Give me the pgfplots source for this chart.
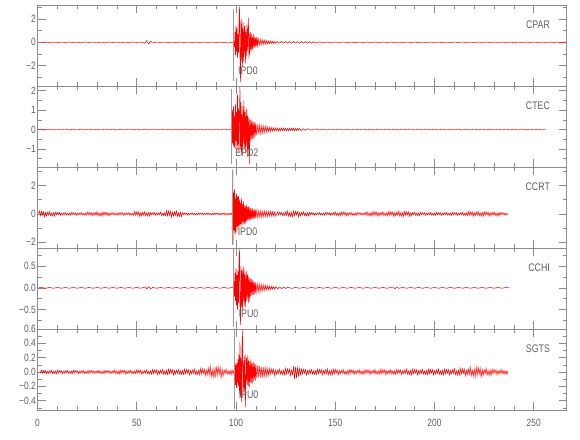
\documentclass[border=0pt]{standalone}
\usepackage{pgfplots}
\pgfplotsset{compat=1.18}
\usepackage{fontspec}
\setmainfont{Liberation Sans}[FakeStretch=0.8]
\definecolor{axgray}{HTML}{8C8C8C}
\definecolor{txtgray}{HTML}{606060}
\definecolor{pickgray}{HTML}{9A9A9A}
\pgfplotsset{
 panel/.style={
  scale only axis, width=529bp, height=81bp,
  xmin=0, xmax=266.5,
  axis line style={draw=axgray, line width=0.7bp},
  tick style={draw=axgray, line width=0.6bp},
  major tick length=8bp, minor tick length=4bp,
  tick align=inside,
  xtick={0,50,100,150,200,250}, minor x tick num=4,
  xticklabels={},
  tick label style={font=\fontsize{10.5bp}{12bp}\selectfont, text=txtgray},
  yticklabel style={inner sep=0pt, xshift=-1.5bp},
  xticklabel style={inner sep=0pt, yshift=-9bp},
  anchor=north west,
 },
 trace/.style={draw=red, line width=0.5bp},
 pick/.style={draw=pickgray, line width=0.55bp},
}
\newcommand{\stlabel}[1]{\node[anchor=east, inner sep=0pt, text=txtgray, font=\fontsize{11bp}{12bp}\selectfont] at (rel axis cs:0.969,0.76) {#1};}
\newcommand{\phlabel}[3]{\node[anchor=west, inner sep=0pt, text=txtgray, font=\fontsize{11bp}{12bp}\selectfont] at (axis cs:#1,#2) {#3};}
\begin{document}
\begin{tikzpicture}
\path (0bp,0bp) rectangle (580bp,-440bp);
% ---------------- CPAR
\begin{axis}[panel, at={(37.5bp,-5bp)}, ymin=-3.74, ymax=3.2,
  ytick={-2,0,2}, minor ytick={-3,-1,1,3}, yticklabels={−2,0,2}]
\addplot[trace] coordinates {
(1.8,0)(4,0.03)(6,-0.03)(8,0.02)(10,-0.03)(12,0.03)(14,-0.02)(16,0.03)(18,-0.03)(20,0.02)(22,-0.03)(24,0.03)(26,-0.02)(28,0.03)(30,-0.03)(32,0.02)(34,-0.03)(36,0.03)(38,-0.02)(40,0.03)(42,-0.03)(44,0.02)(46,-0.03)(48,0.03)(50,-0.02)(52,0.03)(54,-0.08)(55,0.15)(56,-0.14)(57,0.1)(58,-0.05)(60,0.03)(62,-0.02)(64,0.03)(66,-0.03)(68,0.02)(70,-0.03)(72,0.03)(74,-0.02)(76,0.03)(78,-0.03)(80,0.02)(82,-0.03)(84,0.03)(86,-0.02)(88,0.03)(90,-0.03)(92,0.02)(94,-0.03)(96,0.03)(98,-0.03)
(99,0.02)(99.25,-0.4)(99.5,0.9)(99.75,-1.1)(100,1.4)(100.25,-0.8)(100.5,1.2)(100.75,-1.3)(101,0.7)(101.25,-0.9)(101.5,1.6)(101.75,3.05)(102,-1.2)(102.25,-3.4)(102.5,1.8)(102.75,-1.5)(103,2)(103.25,-2.1)(103.5,1.2)(103.75,-1.6)(104,1.7)(104.25,-1)(104.5,1.4)(104.75,-1.8)(105,0.9)(105.25,-1.2)(105.5,1.5)(105.75,-0.7)(106,1.1)(106.25,2.1)(106.5,-1.4)(106.75,0.8)(107,-1.1)(107.25,0.9)(107.5,-0.6)(107.75,0.7)(108,-0.8)(108.25,0.5)(108.5,-0.6)(108.75,0.7)(109,-0.4)(109.25,0.5)(109.5,-0.5)(109.75,0.4)(110,-0.35)(110.25,0.45)(110.5,-0.3)(110.75,0.35)(111,-0.3)(111.5,0.3)(112,-0.25)(112.5,0.28)(113,-0.2)(113.5,0.22)(114,-0.18)(114.5,0.2)(115,-0.15)(115.5,0.16)(116,-0.14)(116.5,0.12)(117,-0.12)(117.5,0.11)(118,-0.1)(118.5,0.1)(119,-0.09)(119.5,0.08)(120,-0.08)
(121,0.08)(122,-0.07)(123,0.08)(124,-0.07)(125,0.07)(126,-0.08)(127,0.07)(128,-0.07)(129,0.08)(130,-0.07)(131,0.06)(132,-0.07)(133,0.07)(134,-0.06)(135,0.07)(136,-0.06)(137,0.06)(138,-0.07)(139,0.06)(140,-0.06)(142,0.04)(144,-0.04)(146,0.03)(148,-0.04)(150,0.03)(152,-0.03)(154,0.03)(156,-0.03)(158,0.02)(160,-0.03)(162,0.03)(164,-0.02)(166,0.03)(168,-0.03)(170,0.02)(172,-0.03)(174,0.03)(176,-0.02)(178,0.03)(180,-0.03)(182,0.02)(184,-0.03)(186,0.03)(188,-0.02)(190,0.03)(192,-0.03)(194,0.02)(196,-0.03)(198,0.03)(200,-0.02)(202,0.03)(204,-0.03)(206,0.02)(208,-0.03)(210,0.03)(212,-0.02)(214,0.03)(216,-0.03)(218,0.02)(220,-0.03)(222,0.03)(224,-0.02)(226,0.03)(228,-0.03)(230,0.02)(232,-0.03)(234,0.03)(236,-0.02)(238,0.03)(240,-0.03)(242,0.02)(244,-0.03)(246,0.03)(248,-0.02)(250,0.03)(252,-0.03)(254,0.02)(256,-0.03)(258,0.03)(260,-0.02)(262,0.03)(264,-0.03)(266,0.02)(268,0)
};
\addplot[pick] coordinates {(98.8,-3.34)(98.8,2.87)};
\stlabel{CPAR}
\phlabel{101}{-2.41}{IPD0}
\end{axis}
% ---------------- CTEC
\begin{axis}[panel, at={(37.5bp,-86bp)}, ymin=-1.93, ymax=2.24,
  ytick={-1,0,1,2}, minor ytick={-1.5,-0.5,0.5,1.5}, yticklabels={−1,0,1,2}]
\addplot[trace] coordinates {
(0,0)(2,0.025)(4,-0.025)(6,0.02)(8,-0.025)(10,0.025)(12,-0.02)(14,0.025)(16,-0.025)(18,0.02)(20,-0.025)(22,0.025)(24,-0.02)(26,0.025)(28,-0.025)(30,0.02)(32,-0.025)(34,0.025)(36,-0.02)(38,0.025)(40,-0.025)(42,0.02)(44,-0.025)(46,0.025)(48,-0.02)(50,0.025)(52,-0.025)(54,0.02)(56,-0.025)(58,0.025)(60,-0.02)(62,0.025)(64,-0.025)(66,0.02)(68,-0.025)(70,0.025)(72,-0.02)(74,0.025)(76,-0.025)(78,0.02)(80,-0.025)(82,0.025)(84,-0.02)(86,0.025)(88,-0.025)(90,0.02)(92,-0.025)(94,0.025)(96,-0.02)(97.5,0)
(97.75,0.6)(98,-0.7)(98.25,1)(98.5,-0.8)(98.75,1.2)(99,-0.9)(99.25,0.7)(99.5,-1)(99.75,1.3)(100,-0.6)(100.25,0.9)(100.5,-1.1)(100.75,1.8)(101,-0.8)(101.25,1.1)(101.5,-1.2)(101.75,0.9)(102,2.2)(102.25,-1)(102.5,1.4)(102.75,-1.3)(103,0.8)(103.25,-1.1)(103.5,1.2)(103.75,-0.7)(104,1.5)(104.25,-1)(104.5,0.9)(104.75,-1.2)(105,1)(105.25,-0.8)(105.5,1.1)(105.75,-1.4)(106,0.7)(106.25,-1)(106.5,0.6)(106.75,-1.78)(107,0.5)(107.25,-0.6)(107.5,0.55)(107.75,-0.5)(108,0.45)(108.25,-0.5)(108.5,0.4)(108.75,-0.45)(109,0.35)(109.25,-0.4)(109.5,0.4)(109.75,-0.3)(110,0.3)(110.5,-0.32)(111,0.28)(111.5,-0.25)(112,0.25)(112.5,-0.22)(113,0.2)(113.5,-0.2)(114,0.18)(114.5,-0.16)(115,0.17)(115.5,-0.14)(116,0.14)(116.5,-0.12)(117,0.12)(117.5,-0.1)(118,0.1)(118.5,-0.09)(119,0.09)(119.5,-0.08)
(120,0.08)(120.5,-0.06)(121,0.07)(121.5,-0.08)(122,0.06)(122.5,-0.07)(123,0.08)(123.5,-0.05)(124,0.07)(124.5,-0.06)(125,0.06)(125.5,-0.07)(126,0.05)(126.5,-0.06)(127,0.07)(127.5,-0.05)(128,0.06)(128.5,-0.05)(129,0.06)(129.5,-0.06)(130,0.05)(130.5,-0.05)(131,0.06)(131.5,-0.04)(132,0.05)(133,-0.05)(134,0.04)(135,-0.04)(136,0.04)(138,-0.03)(140,0.03)(142,-0.025)(144,0.02)(146,-0.025)(148,0.025)(150,-0.02)(152,0.025)(154,-0.025)(156,0.02)(158,-0.025)(160,0.025)(162,-0.02)(164,0.025)(166,-0.025)(168,0.02)(170,-0.025)(172,0.025)(174,-0.02)(176,0.025)(178,-0.025)(180,0.02)(182,-0.025)(184,0.025)(186,-0.02)(188,0.025)(190,-0.025)(192,0.02)(194,-0.025)(196,0.025)(198,-0.02)(200,0.025)(202,-0.025)(204,0.02)(206,-0.025)(208,0.025)(210,-0.02)(212,0.025)(214,-0.025)(216,0.02)(218,-0.025)(220,0.025)(222,-0.02)(224,0.025)(226,-0.025)(228,0.02)(230,-0.025)(232,0.025)(234,-0.02)(236,0.025)(238,-0.025)(240,0.02)(242,-0.025)(244,0.025)(246,-0.02)(248,0.025)(250,-0.025)(252,0.02)(254,-0.02)(256,0)
};
\addplot[pick] coordinates {(97.5,-1.75)(97.5,2.1)};
\stlabel{CTEC}
\phlabel{99.6}{-1.19}{EPD2}
\end{axis}
% ---------------- CCRT
\begin{axis}[panel, at={(37.5bp,-167bp)}, ymin=-2.4, ymax=3.3,
  ytick={-2,0,2}, minor ytick={-1,1,3}, yticklabels={−2,0,2}]
\addplot[trace] coordinates {
(0.6,0)(1,0.2)(1.5,-0.12)(2,0.18)(2.5,-0.08)(3,0.16)(3.5,-0.2)(4,0.1)(4.5,-0.14)
(5,0.11)(5.5,-0.08)(6,0.16)(6.5,-0.13)(7,0.06)(7.5,-0.14)(8,0.1)(8.5,-0.16)
(9,0.12)(9.5,-0.07)(10,0.11)(10.5,-0.05)(11,0.1)(11.5,-0.12)(12,0.06)(12.5,-0.08)
(13,0.07)(13.5,-0.05)(14,0.1)(14.5,-0.08)(15,0.04)(15.5,-0.09)(16,0.06)(16.5,-0.1)
(17,0.1)(17.5,-0.06)(18,0.09)(18.5,-0.04)(19,0.08)(19.5,-0.1)(20,0.05)(20.5,-0.07)
(21,0.07)(21.5,-0.05)(22,0.1)(22.5,-0.08)(23,0.04)(23.5,-0.09)(24,0.06)(24.5,-0.1)
(25,0.14)(25.5,-0.08)(26,0.13)(26.5,-0.06)(27,0.11)(27.5,-0.14)(28,0.07)(28.5,-0.1)
(29,0.11)(29.5,-0.08)(30,0.16)(30.5,-0.13)(31,0.06)(31.5,-0.14)(32,0.1)(32.5,-0.16)
(33,0.14)(33.5,-0.08)(34,0.13)(34.5,-0.06)(35,0.11)(35.5,-0.14)(36,0.07)(36.5,-0.1)
(37,0.07)(37.5,-0.05)(38,0.1)(38.5,-0.08)(39,0.04)(39.5,-0.09)(40,0.06)(40.5,-0.1)
(41,0.1)(41.5,-0.06)(42,0.09)(42.5,-0.04)(43,0.08)(43.5,-0.1)(44,0.05)(44.5,-0.07)
(45,0.07)(45.5,-0.05)(46,0.1)(46.5,-0.08)(47,0.04)(47.5,-0.09)(48,0.06)(48.5,-0.1)
(49,0.18)(49.5,-0.11)(50,0.16)(50.5,-0.07)(51,0.14)(51.5,-0.18)(52,0.09)(52.5,-0.13)
(53,0.11)(53.5,-0.08)(54,0.16)(54.5,-0.13)(55,0.06)(55.5,-0.14)(56,0.1)(56.5,-0.16)
(57,0.1)(57.5,-0.06)(58,0.09)(58.5,-0.04)(59,0.08)(59.5,-0.1)(60,0.05)(60.5,-0.07)
(61,0.08)(61.5,-0.06)(62,0.12)(62.5,-0.1)(63,0.05)(63.5,-0.11)(64,0.07)(64.5,-0.12)
(65,0.22)(65.5,-0.13)(66,0.2)(66.5,-0.09)(67,0.18)(67.5,-0.22)(68,0.11)(68.5,-0.15)
(69,0.14)(69.5,-0.1)(70,0.2)(70.5,-0.16)(71,0.08)(71.5,-0.18)(72,0.12)(72.5,-0.2)
(73,0.08)(73.5,-0.05)(74,0.07)(74.5,-0.03)(75,0.06)(75.5,-0.08)(76,0.04)(76.5,-0.06)
(77,0.05)(77.5,-0.035)(78,0.07)(78.5,-0.056)(79,0.03)(79.5,-0.063)(80,0.04)(80.5,-0.07)
(81,0.07)(81.5,-0.04)(82,0.06)(82.5,-0.03)(83,0.06)(83.5,-0.07)(84,0.035)(84.5,-0.05)
(85,0.05)(85.5,-0.035)(86,0.07)(86.5,-0.056)(87,0.03)(87.5,-0.063)(88,0.04)(88.5,-0.07)
(89,0.07)(89.5,-0.04)(90,0.06)(90.5,-0.03)(91,0.06)(91.5,-0.07)(92,0.035)(92.5,-0.05)
(93,0.05)(93.5,-0.035)(94,0.07)(94.5,-0.056)(95,0.03)(95.5,-0.063)(96,0.04)(96.5,-0.07)
(97,0.05)(97.5,-0.04)(97.75,0.03)
(98,0.05)(98.25,-0.1)(98.4,3.14)(98.55,-2.14)(98.75,1.5)(99,-1.2)(99.25,1.73)(99.5,-1.44)(99.75,1.1)(100,-1.3)(100.25,1.4)(100.5,-0.9)(100.75,1.2)(101,-1.1)(101.25,1.27)(101.5,-0.8)(101.75,1)(102,-0.9)(102.25,0.8)(102.5,-0.7)(102.75,1.1)(103,-0.85)(103.25,0.7)(103.5,-0.6)(103.75,0.9)(104,-0.75)(104.25,0.6)(104.5,-0.7)(104.75,0.55)(105,-0.6)(105.25,0.65)(105.5,-0.5)(105.75,0.5)(106,-0.45)(106.25,0.55)(106.5,-0.4)(106.75,0.45)(107,-0.5)(107.25,0.4)(107.5,-0.4)(107.75,0.35)(108,-0.38)(108.25,0.4)(108.5,-0.33)(108.75,0.3)(109,-0.35)(109.25,0.3)(109.5,-0.28)(109.75,0.32)(110,-0.3)(110.5,0.27)(111,-0.28)(111.5,0.25)(112,-0.24)(112.5,0.22)(113,-0.25)(113.5,0.2)(114,-0.2)(114.5,0.22)(115,-0.18)(115.5,0.19)(116,-0.2)(116.5,0.17)(117,-0.16)(117.5,0.18)(118,-0.15)(118.5,0.16)(119,-0.15)(119.5,0.14)(120,-0.15)
(121,0.14)(121.5,-0.08)(122,0.13)(122.5,-0.06)(123,0.11)(123.5,-0.14)(124,0.07)(124.5,-0.1)
(125,0.14)(125.5,-0.1)(126,0.2)(126.5,-0.16)(127,0.08)(127.5,-0.18)(128,0.12)(128.5,-0.2)
(129,0.2)(129.5,-0.12)(130,0.18)(130.5,-0.08)(131,0.16)(131.5,-0.2)(132,0.1)(132.5,-0.14)
(133,0.105)(133.5,-0.075)(134,0.15)(134.5,-0.12)(135,0.06)(135.5,-0.135)(136,0.09)(136.5,-0.15)
(137,0.1)(137.5,-0.06)(138,0.09)(138.5,-0.04)(139,0.08)(139.5,-0.1)(140,0.05)(140.5,-0.07)
(141,0.07)(141.5,-0.05)(142,0.1)(142.5,-0.08)(143,0.04)(143.5,-0.09)(144,0.06)(144.5,-0.1)
(145,0.1)(145.5,-0.06)(146,0.09)(146.5,-0.04)(147,0.08)(147.5,-0.1)(148,0.05)(148.5,-0.07)
(149,0.1)(149.5,-0.07)(150,0.14)(150.5,-0.11)(151,0.06)(151.5,-0.13)(152,0.08)(152.5,-0.14)
(153,0.15)(153.5,-0.09)(154,0.135)(154.5,-0.06)(155,0.12)(155.5,-0.15)(156,0.075)(156.5,-0.105)
(157,0.08)(157.5,-0.06)(158,0.12)(158.5,-0.1)(159,0.05)(159.5,-0.11)(160,0.07)(160.5,-0.12)
(161,0.1)(161.5,-0.06)(162,0.09)(162.5,-0.04)(163,0.08)(163.5,-0.1)(164,0.05)(164.5,-0.07)
(165,0.11)(165.5,-0.08)(166,0.16)(166.5,-0.13)(167,0.06)(167.5,-0.14)(168,0.1)(168.5,-0.16)
(169,0.17)(169.5,-0.1)(170,0.15)(170.5,-0.07)(171,0.14)(171.5,-0.17)(172,0.085)(172.5,-0.12)
(173,0.105)(173.5,-0.075)(174,0.15)(174.5,-0.12)(175,0.06)(175.5,-0.135)(176,0.09)(176.5,-0.15)
(177,0.18)(177.5,-0.11)(178,0.16)(178.5,-0.07)(179,0.14)(179.5,-0.18)(180,0.09)(180.5,-0.13)
(181,0.13)(181.5,-0.095)(182,0.19)(182.5,-0.15)(183,0.08)(183.5,-0.17)(184,0.11)(184.5,-0.19)
(185,0.18)(185.5,-0.11)(186,0.16)(186.5,-0.07)(187,0.14)(187.5,-0.18)(188,0.09)(188.5,-0.13)
(189,0.08)(189.5,-0.06)(190,0.12)(190.5,-0.1)(191,0.05)(191.5,-0.11)(192,0.07)(192.5,-0.12)
(193,0.1)(193.5,-0.06)(194,0.09)(194.5,-0.04)(195,0.08)(195.5,-0.1)(196,0.05)(196.5,-0.07)
(197,0.07)(197.5,-0.05)(198,0.1)(198.5,-0.08)(199,0.04)(199.5,-0.09)(200,0.06)(200.5,-0.1)
(201,0.1)(201.5,-0.06)(202,0.09)(202.5,-0.04)(203,0.08)(203.5,-0.1)(204,0.05)(204.5,-0.07)
(205,0.07)(205.5,-0.05)(206,0.1)(206.5,-0.08)(207,0.04)(207.5,-0.09)(208,0.06)(208.5,-0.1)
(209,0.1)(209.5,-0.06)(210,0.09)(210.5,-0.04)(211,0.08)(211.5,-0.1)(212,0.05)(212.5,-0.07)
(213,0.08)(213.5,-0.06)(214,0.12)(214.5,-0.1)(215,0.05)(215.5,-0.11)(216,0.07)(216.5,-0.12)
(217,0.17)(217.5,-0.1)(218,0.15)(218.5,-0.07)(219,0.14)(219.5,-0.17)(220,0.085)(220.5,-0.12)
(221,0.13)(221.5,-0.09)(222,0.18)(222.5,-0.14)(223,0.07)(223.5,-0.16)(224,0.11)(224.5,-0.18)
(225,0.16)(225.5,-0.1)(226,0.14)(226.5,-0.06)(227,0.13)(227.5,-0.16)(228,0.08)(228.5,-0.11)
(229,0.105)(229.5,-0.075)(230,0.15)(230.5,-0.12)(231,0.06)(231.5,-0.135)(232,0.09)(232.5,-0.15)
(233,0.1)(233.5,-0.06)(234,0.09)(234.5,-0.04)(235,0.08)(235.5,-0.1)(236,0.05)(236.5,-0.07)
(237,0.03)
};
\addplot[pick] coordinates {(98.3,-2.2)(98.3,3.1)};
\stlabel{CCRT}
\phlabel{100.8}{-1.28}{IPD0}
\end{axis}
% ---------------- CCHI
\begin{axis}[panel, at={(37.5bp,-248bp)}, ymin=-0.95, ymax=0.92,
  ytick={-0.5,0,0.5}, minor ytick={-0.75,-0.25,0.25,0.75}, yticklabels={−0.5,0.0,0.5}]
\addplot[trace] coordinates {
(0.4,0)(2,0.01)(4,-0.01)(6,0.01)(8,-0.01)(10,0.01)(12,-0.01)(14,0.01)(16,-0.01)(18,0.01)(20,-0.01)(22,0.01)(24,-0.01)(26,0.01)(28,-0.01)(30,0.01)(32,-0.01)(34,0.01)(36,-0.01)(38,0.01)(40,-0.01)(42,0.01)(44,-0.01)(46,0.01)(48,-0.01)(50,0.01)(52,-0.01)(54,0.02)(55,-0.025)(56,0.025)(57,-0.02)(58,0.01)(60,-0.01)(62,0.01)(64,-0.01)(66,0.01)(68,-0.01)(70,0.01)(72,-0.01)(74,0.01)(76,-0.01)(78,0.01)(80,-0.01)(82,0.01)(84,-0.01)(86,0.01)(88,-0.01)(90,0.01)(92,-0.01)(94,0.01)(96,-0.01)(98,0.01)(98.75,0)
(99,0.15)(99.25,-0.2)(99.5,0.35)(99.75,-0.3)(100,0.45)(100.25,-0.4)(100.5,0.3)(100.75,-0.5)(101,0.4)(101.25,-0.35)(101.5,0.55)(101.75,0.89)(102,-0.4)(102.25,-0.86)(102.5,0.5)(102.75,-0.45)(103,0.4)(103.25,-0.53)(103.5,0.45)(103.75,-0.3)(104,0.5)(104.25,-0.4)(104.5,0.3)(104.75,-0.45)(105,0.35)(105.25,-0.3)(105.5,0.4)(105.75,-0.25)(106,0.3)(106.25,-0.35)(106.5,0.25)(106.75,-0.3)(107,0.22)(107.25,-0.2)(107.5,0.2)(107.75,-0.18)(108,0.2)(108.25,-0.15)(108.5,0.17)(108.75,-0.16)(109,0.14)(109.25,-0.15)(109.5,0.13)(109.75,-0.12)(110,0.12)(110.5,-0.11)(111,0.1)(111.5,-0.1)(112,0.09)(112.5,-0.08)(113,0.08)(113.5,-0.07)(114,0.07)(114.5,-0.06)(115,0.06)(115.5,-0.05)(116,0.05)(116.5,-0.045)(117,0.04)(117.5,-0.04)(118,0.035)(118.5,-0.03)(119,0.03)(119.5,-0.03)(120,0.025)(121,-0.02)
(122,0.02)(123,-0.018)(124,0.016)(125,-0.015)(126,0.014)(128,-0.012)(130,0.01)(132,-0.01)(134,0.01)(136,-0.01)(138,0.01)(140,-0.01)(142,0.01)(144,-0.01)(146,0.01)(148,-0.01)(150,0.01)(152,-0.01)(154,0.01)(156,-0.01)(158,0.01)(160,-0.01)(162,0.01)(164,-0.01)(166,0.01)(168,-0.01)(170,0.01)(172,-0.01)(174,0.01)(176,-0.01)(178,0.01)(179,0.02)(180,-0.022)(181,0.018)(182,-0.01)(184,0.01)(186,-0.01)(188,0.01)(190,-0.01)(192,0.01)(194,-0.01)(196,0.01)(198,-0.01)(200,0.01)(202,-0.01)(204,0.01)(206,-0.01)(208,0.01)(210,-0.01)(212,0.01)(214,-0.01)(216,0.01)(218,-0.01)(220,0.01)(222,-0.01)(224,0.01)(226,-0.01)(228,0.01)(230,-0.01)(232,0.01)(234,-0.01)(236,0.01)(237.7,0)
};
\addplot[pick] coordinates {(98.8,-0.9)(98.8,0.89)};
\stlabel{CCHI}
\phlabel{101.3}{-0.6}{IPU0}
\end{axis}
% ---------------- SGTS
\begin{axis}[panel, at={(37.5bp,-329bp)}, ymin=-0.53, ymax=0.6,
  ytick={-0.4,-0.2,0,0.2,0.4,0.6}, minor ytick={-0.5,-0.3,-0.1,0.1,0.3,0.5},
  yticklabels={−0.4,−0.2,0.0,0.2,0.4,0.6},
  xticklabels={0,50,100,150,200,250}]
\addplot[trace] coordinates {
(1.3,0)(1.5,-0.01)
(2,0.025)(2.5,-0.015)(3,0.022)(3.5,-0.01)(4,0.02)(4.5,-0.025)(5,0.012)(5.5,-0.018)
(6,0.018)(6.5,-0.012)(7,0.025)(7.5,-0.02)(8,0.01)(8.5,-0.022)(9,0.015)(9.5,-0.025)
(10,0.025)(10.5,-0.015)(11,0.022)(11.5,-0.01)(12,0.02)(12.5,-0.025)(13,0.012)(13.5,-0.018)
(14,0.018)(14.5,-0.012)(15,0.025)(15.5,-0.02)(16,0.01)(16.5,-0.022)(17,0.015)(17.5,-0.025)
(18,0.025)(18.5,-0.015)(19,0.022)(19.5,-0.01)(20,0.02)(20.5,-0.025)(21,0.012)(21.5,-0.018)
(22,0.018)(22.5,-0.012)(23,0.025)(23.5,-0.02)(24,0.01)(24.5,-0.022)(25,0.015)(25.5,-0.025)
(26,0.025)(26.5,-0.015)(27,0.022)(27.5,-0.01)(28,0.02)(28.5,-0.025)(29,0.012)(29.5,-0.018)
(30,0.018)(30.5,-0.012)(31,0.025)(31.5,-0.02)(32,0.01)(32.5,-0.022)(33,0.015)(33.5,-0.025)
(34,0.025)(34.5,-0.015)(35,0.022)(35.5,-0.01)(36,0.02)(36.5,-0.025)(37,0.012)(37.5,-0.018)
(38,0.021)(38.5,-0.015)(39,0.03)(39.5,-0.024)(40,0.012)(40.5,-0.027)(41,0.018)(41.5,-0.03)
(42,0.03)(42.5,-0.018)(43,0.027)(43.5,-0.012)(44,0.024)(44.5,-0.03)(45,0.015)(45.5,-0.021)
(46,0.018)(46.5,-0.012)(47,0.025)(47.5,-0.02)(48,0.01)(48.5,-0.022)(49,0.015)(49.5,-0.025)
(50,0.03)(50.5,-0.018)(51,0.027)(51.5,-0.012)(52,0.024)(52.5,-0.03)(53,0.015)(53.5,-0.021)
(54,0.021)(54.5,-0.015)(55,0.03)(55.5,-0.024)(56,0.012)(56.5,-0.027)(57,0.018)(57.5,-0.03)
(58,0.035)(58.5,-0.021)(59,0.032)(59.5,-0.014)(60,0.028)(60.5,-0.035)(61,0.018)(61.5,-0.025)
(62,0.025)(62.5,-0.018)(63,0.035)(63.5,-0.028)(64,0.014)(64.5,-0.032)(65,0.021)(65.5,-0.035)
(66,0.04)(66.5,-0.024)(67,0.036)(67.5,-0.016)(68,0.032)(68.5,-0.04)(69,0.02)(69.5,-0.028)
(70,0.025)(70.5,-0.018)(71,0.035)(71.5,-0.028)(72,0.014)(72.5,-0.032)(73,0.021)(73.5,-0.035)
(74,0.04)(74.5,-0.024)(75,0.036)(75.5,-0.016)(76,0.032)(76.5,-0.04)(77,0.02)(77.5,-0.028)
(78,0.028)(78.5,-0.02)(79,0.04)(79.5,-0.032)(80,0.016)(80.5,-0.036)(81,0.024)(81.5,-0.04)
(82,0.05)(82.5,-0.03)(83,0.045)(83.5,-0.02)(84,0.04)(84.5,-0.05)(85,0.025)(85.5,-0.035)
(86,0.056)(86.5,-0.04)(87,0.08)(87.5,-0.064)(88,0.032)(88.5,-0.072)(89,0.048)(89.5,-0.08)
(90,0.08)(90.5,-0.048)(91,0.072)(91.5,-0.032)(92,0.064)(92.5,-0.08)(93,0.04)(93.5,-0.056)
(94,0.028)(94.5,-0.02)(95,0.04)(95.5,-0.032)(96,0.016)(96.5,-0.036)(97,0.024)(97.5,-0.04)
(98,0.03)(98.5,-0.02)
(99,0.02)(99.25,-0.08)(99.5,0.12)(99.75,-0.18)(100,0.1)(100.25,-0.22)(100.5,0.13)(100.75,-0.15)(101,0.18)(101.25,-0.2)(101.5,0.25)(101.75,-0.3)(102,0.42)(102.25,-0.35)(102.5,0.2)(102.75,-0.42)(103,0.3)(103.25,0.58)(103.5,-0.25)(103.75,0.15)(104,-0.3)(104.25,0.22)(104.5,-0.2)(104.75,-0.49)(105,0.25)(105.25,-0.15)(105.5,0.2)(105.75,-0.18)(106,0.24)(106.25,-0.2)(106.5,0.16)(106.75,-0.21)(107,0.15)(107.25,-0.14)(107.5,0.18)(107.75,-0.15)(108,0.13)(108.25,-0.16)(108.5,0.12)(108.75,-0.13)(109,0.14)(109.25,-0.1)(109.5,0.11)(109.75,-0.12)(110,0.1)(110.5,-0.09)(111,0.1)(111.5,-0.08)(112,0.09)(112.5,-0.08)(113,0.07)(113.5,-0.08)(114,0.07)(114.5,-0.06)(115,0.06)(115.5,-0.06)(116,0.05)(116.5,-0.05)
(117,0.05)(117.5,-0.03)(118,0.045)(118.5,-0.02)(119,0.04)(119.5,-0.05)(120,0.025)(120.5,-0.035)
(121,0.028)(121.5,-0.02)(122,0.04)(122.5,-0.032)(123,0.016)(123.5,-0.036)(124,0.024)(124.5,-0.04)
(125,0.05)(125.5,-0.03)(126,0.045)(126.5,-0.02)(127,0.04)(127.5,-0.05)(128,0.025)(128.5,-0.035)
(129,0.08)(129.5,-0.1)(130,0.07)(130.5,-0.08)(131,0.06)(131.5,-0.05)(132,0.05)(132.5,-0.04)
(133,0.04)(133.5,-0.024)(134,0.036)(134.5,-0.016)(135,0.032)(135.5,-0.04)(136,0.02)(136.5,-0.028)
(137,0.025)(137.5,-0.018)(138,0.035)(138.5,-0.028)(139,0.014)(139.5,-0.032)(140,0.021)(140.5,-0.035)
(141,0.04)(141.5,-0.024)(142,0.036)(142.5,-0.016)(143,0.032)(143.5,-0.04)(144,0.02)(144.5,-0.028)
(145,0.032)(145.5,-0.022)(146,0.045)(146.5,-0.036)(147,0.018)(147.5,-0.04)(148,0.027)(148.5,-0.045)
(149,0.04)(149.5,-0.024)(150,0.036)(150.5,-0.016)(151,0.032)(151.5,-0.04)(152,0.02)(152.5,-0.028)
(153,0.025)(153.5,-0.018)(154,0.035)(154.5,-0.028)(155,0.014)(155.5,-0.032)(156,0.021)(156.5,-0.035)
(157,0.035)(157.5,-0.021)(158,0.032)(158.5,-0.014)(159,0.028)(159.5,-0.035)(160,0.018)(160.5,-0.025)
(161,0.025)(161.5,-0.018)(162,0.035)(162.5,-0.028)(163,0.014)(163.5,-0.032)(164,0.021)(164.5,-0.035)
(165,0.035)(165.5,-0.021)(166,0.032)(166.5,-0.014)(167,0.028)(167.5,-0.035)(168,0.018)(168.5,-0.025)
(169,0.025)(169.5,-0.018)(170,0.035)(170.5,-0.028)(171,0.014)(171.5,-0.032)(172,0.021)(172.5,-0.035)
(173,0.04)(173.5,-0.024)(174,0.036)(174.5,-0.016)(175,0.032)(175.5,-0.04)(176,0.02)(176.5,-0.028)
(177,0.025)(177.5,-0.018)(178,0.035)(178.5,-0.028)(179,0.014)(179.5,-0.032)(180,0.021)(180.5,-0.035)
(181,0.035)(181.5,-0.021)(182,0.032)(182.5,-0.014)(183,0.028)(183.5,-0.035)(184,0.018)(184.5,-0.025)
(185,0.028)(185.5,-0.02)(186,0.04)(186.5,-0.032)(187,0.016)(187.5,-0.036)(188,0.024)(188.5,-0.04)
(189,0.04)(189.5,-0.024)(190,0.036)(190.5,-0.016)(191,0.032)(191.5,-0.04)(192,0.02)(192.5,-0.028)
(193,0.025)(193.5,-0.018)(194,0.035)(194.5,-0.028)(195,0.014)(195.5,-0.032)(196,0.021)(196.5,-0.035)
(197,0.04)(197.5,-0.024)(198,0.036)(198.5,-0.016)(199,0.032)(199.5,-0.04)(200,0.02)(200.5,-0.028)
(201,0.028)(201.5,-0.02)(202,0.04)(202.5,-0.032)(203,0.016)(203.5,-0.036)(204,0.024)(204.5,-0.04)
(205,0.04)(205.5,-0.024)(206,0.036)(206.5,-0.016)(207,0.032)(207.5,-0.04)(208,0.02)(208.5,-0.028)
(209,0.032)(209.5,-0.022)(210,0.045)(210.5,-0.036)(211,0.018)(211.5,-0.04)(212,0.027)(212.5,-0.045)
(213,0.05)(213.5,-0.03)(214,0.045)(214.5,-0.02)(215,0.04)(215.5,-0.05)(216,0.025)(216.5,-0.035)
(217,0.046)(217.5,-0.033)(218,0.065)(218.5,-0.052)(219,0.026)(219.5,-0.059)(220,0.039)(220.5,-0.065)
(221,0.07)(221.5,-0.042)(222,0.063)(222.5,-0.028)(223,0.056)(223.5,-0.07)(224,0.035)(224.5,-0.049)
(225,0.035)(225.5,-0.025)(226,0.05)(226.5,-0.04)(227,0.02)(227.5,-0.045)(228,0.03)(228.5,-0.05)
(229,0.04)(229.5,-0.024)(230,0.036)(230.5,-0.016)(231,0.032)(231.5,-0.04)(232,0.02)(232.5,-0.028)
(233,0.025)(233.5,-0.018)(234,0.035)(234.5,-0.028)(235,0.014)(235.5,-0.032)(236,0.021)(236.5,-0.035)
(237,0.02)
};
\addplot[pick] coordinates {(99.1,-0.52)(99.1,0.58)};
\stlabel{SGTS}
\phlabel{101.3}{-0.31}{IPU0}
\end{axis}
\end{tikzpicture}
\end{document}
